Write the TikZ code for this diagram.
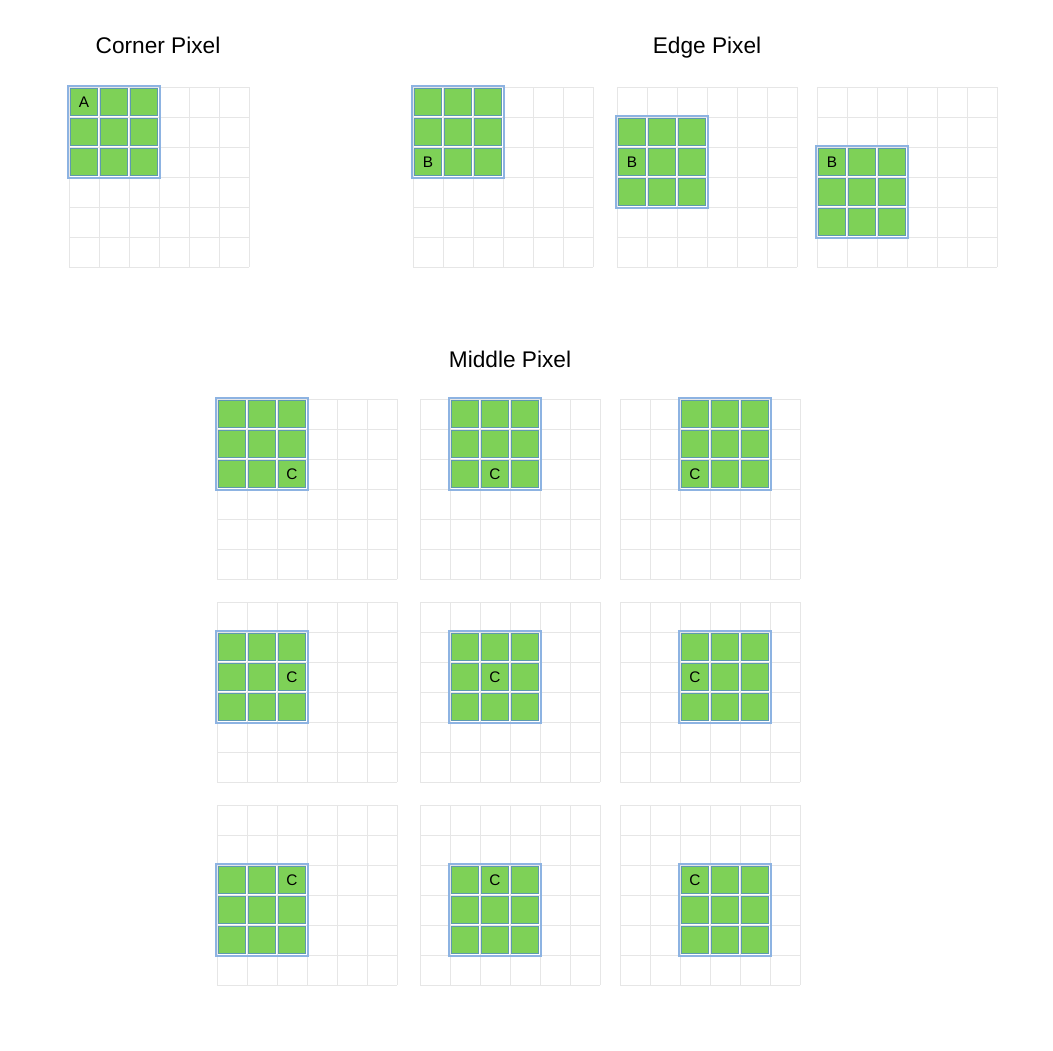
\documentclass[tikz,border=0pt]{standalone}
\usepackage{fontspec}
\setmainfont{Liberation Sans}
\definecolor{gridgray}{HTML}{E6E6E6}
\definecolor{cellgreen}{HTML}{7ED157}
\definecolor{cellline}{HTML}{5E9AAE}
\definecolor{blockblue}{HTML}{8DB3E2}
\tikzset{
  gridline/.style={draw=gridgray, line width=0.7pt},
  greencell/.style={fill=cellgreen, draw=cellline, line width=0.9pt},
  blockframe/.style={draw=blockblue, line width=0.9pt},
  lbl/.style={font=\fontsize{11.5}{13}\selectfont, inner sep=0pt},
  ttl/.style={font=\fontsize{17}{20}\selectfont, inner sep=0pt, anchor=base}
}
% #1,#2 grid top-left; #3,#4 block col,row; #5,#6 label col,row; #7 label text; #8 node name
\newcommand\pixgrid[8]{%
  \foreach \i in {0,...,6}{%
    \draw[gridline] ({#1+30*\i},#2) -- ({#1+30*\i},{#2+180});
    \draw[gridline] (#1,{#2+30*\i}) -- ({#1+180},{#2+30*\i});
  }
  \foreach \c in {0,1,2}{\foreach \r in {0,1,2}{%
    \draw[greencell] ({#1+30*(#3+\c)+1.5},{#2+30*(#4+\r)+1.5}) rectangle ++(27,27);
  }}
  \draw[blockframe] ({#1+30*#3-1},{#2+30*#4-1}) rectangle ++(92,92);
  \node[lbl] (#8) at ({#1+30*#5+15},{#2+30*#6+15}) {#7};
}
\begin{document}
\begin{tikzpicture}[x=0.75pt,y=-0.75pt]
\useasboundingbox (0,0) rectangle (1053,1050);
\node[ttl] (tcorner) at (158,53) {Corner Pixel};
\node[ttl] (tedge) at (707,53) {Edge Pixel};
\node[ttl] (tmiddle) at (510,367) {Middle Pixel};
\pixgrid{69}{87}{0}{0}{0}{0}{A}{la}
\pixgrid{413}{87}{0}{0}{0}{2}{B}{lb1}
\pixgrid{617}{87}{0}{1}{0}{2}{B}{lb2}
\pixgrid{817}{87}{0}{2}{0}{2}{B}{lb3}
\pixgrid{217}{399}{0}{0}{2}{2}{C}{lc11}
\pixgrid{420}{399}{1}{0}{2}{2}{C}{lc12}
\pixgrid{620}{399}{2}{0}{2}{2}{C}{lc13}
\pixgrid{217}{602}{0}{1}{2}{2}{C}{lc21}
\pixgrid{420}{602}{1}{1}{2}{2}{C}{lc22}
\pixgrid{620}{602}{2}{1}{2}{2}{C}{lc23}
\pixgrid{217}{805}{0}{2}{2}{2}{C}{lc31}
\pixgrid{420}{805}{1}{2}{2}{2}{C}{lc32}
\pixgrid{620}{805}{2}{2}{2}{2}{C}{lc33}
\end{tikzpicture}
\end{document}
